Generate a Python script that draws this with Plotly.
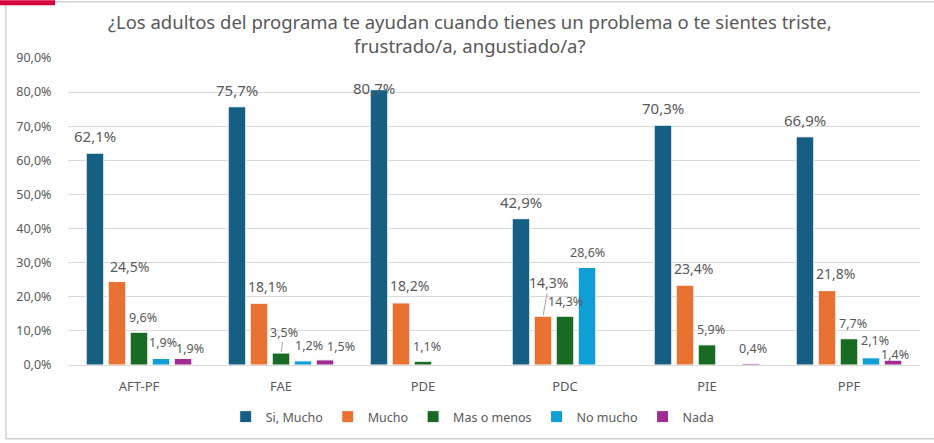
import plotly.graph_objects as go

# ── Data ────────────────────────────────────────────────────────────────────
programas = ["AFT-PF", "FAE", "PDE", "PDC", "PIE", "PPF"]

si_mucho = [62.1, 75.7, 80.7, 42.9, 70.3, 66.9]
mucho = [24.5, 18.1, 18.2, 14.3, 23.4, 21.8]
mas_o_menos = [9.6, 3.5, 1.1, 14.3, 5.9, 7.7]
no_mucho = [1.9, 1.2, None, 28.6, None, 2.1]
nada = [1.9, 1.5, None, None, 0.4, 1.4]

series_names = ["Si, Mucho", "Mucho", "Mas o menos", "No mucho", "Nada"]
series_values = [si_mucho, mucho, mas_o_menos, no_mucho, nada]
COLORS = ["#156082", "#E97132", "#196B24", "#0F9ED5", "#A02B93"]

TITLE = ("¿Los adultos del programa te ayudan cuando tienes un problema o te sientes triste,"
         "<br>frustrado/a, angustiado/a?")

# ── Layout constants ────────────────────────────────────────────────────────
W, H = 934, 443
ML, MR, MT, MB = 68, 14, 58, 77
BARGAP = 0.225
GREY = "#595959"
FONT = "Noto Sans"

plot_w = W - ML - MR
plot_h = H - MT - MB
slot_px = plot_w / len(programas) * (1 - BARGAP) / len(series_names)

# label style per series: font size, default offsets (px right, px above bar top)
LABEL_SIZE = [15, 14, 12.5, 12.5, 12.5]
LABEL_DX = [0, 9, 4, 2, 2]
LABEL_DY = [17, 17, 15, 16, 15]
# hand-placed label tweaks (series index, category) -> (dx, dy, leader line)
LABEL_TWEAK = {
    (0, "PDE"): (-5, 2, False),
    (1, "AFT-PF"): (13, 15, False),
    (4, "AFT-PF"): (7, 10, False),
    (2, "FAE"): (3, 21, True),
    (3, "FAE"): (6, 15, False),
    (4, "FAE"): (16, 13, False),
    (1, "PDC"): (6, 34, True),
    (2, "PDC"): (0, 15, False),
    (3, "PDC"): (0, 15, False),
    (3, "PPF"): (4, 17, False),
    (4, "PPF"): (2, 6, False),
}


def fmt(v):
    return f"{v:.1f}".replace(".", ",") + "%"


fig = go.Figure()

for i, (name, vals) in enumerate(zip(series_names, series_values)):
    fig.add_trace(go.Bar(
        name=name,
        x=programas,
        y=vals,
        marker=dict(color=COLORS[i], line=dict(color="white", width=1)),
        hoverinfo="x+y+name",
    ))

annotations = []
for i, vals in enumerate(series_values):
    base_shift = (i - 2) * slot_px
    for cat, v in zip(programas, vals):
        if v is None:
            continue
        dx, dy, leader = LABEL_TWEAK.get((i, cat), (LABEL_DX[i], LABEL_DY[i], False))
        common = dict(
            x=cat, y=v, xref="x", yref="y",
            text=fmt(v),
            font=dict(family=FONT, size=LABEL_SIZE[i], color=GREY),
            xanchor="center", yanchor="middle",
        )
        if leader:
            annotations.append(dict(
                **common, xshift=base_shift, showarrow=True,
                ax=dx, ay=-dy, axref="pixel", ayref="pixel",
                arrowhead=0, arrowwidth=1, arrowcolor="#a6a6a6", standoff=1,
            ))
        else:
            annotations.append(dict(
                **common, xshift=base_shift + dx, yshift=dy, showarrow=False,
            ))


# chart frame (grey border) and red tab in the top-left corner
def px_x(p):
    return (p - ML) / plot_w


def px_y(p):
    return (H - MB - p) / plot_h


shapes = [
    dict(type="rect", xref="paper", yref="paper",
         x0=px_x(6), x1=px_x(W + 10), y0=px_y(440), y1=px_y(1.5),
         line=dict(color="#d0d0d0", width=1.5), fillcolor="rgba(0,0,0,0)", layer="below"),
    dict(type="rect", xref="paper", yref="paper",
         x0=px_x(0), x1=px_x(55), y0=px_y(5), y1=px_y(0),
         line=dict(width=0), fillcolor="#D9043D"),
]

fig.update_layout(
    width=W, height=H,
    margin=dict(l=ML, r=MR, t=MT, b=MB),
    paper_bgcolor="white", plot_bgcolor="white",
    font=dict(family=FONT, color=GREY, size=12.5),
    separators=",.",
    barmode="group",
    bargap=BARGAP,
    bargroupgap=0.2,
    title=dict(
        text=TITLE, x=0.503, xanchor="center", y=1 - 29 / H, yanchor="middle",
        font=dict(family=FONT, size=18.5, color=GREY),
    ),
    legend=dict(
        orientation="h", x=0.475, xanchor="center", y=px_y(417), yanchor="middle",
        font=dict(family=FONT, size=12.5, color=GREY),
        itemwidth=30, tracegroupgap=0,
    ),
    annotations=annotations,
    shapes=shapes,
    showlegend=True,
)

fig.update_yaxes(
    range=[0, 90], dtick=10, tickformat=".1f", ticksuffix="%",
    showgrid=True, gridcolor="#d9d9d9", gridwidth=1,
    zeroline=True, zerolinecolor="#d9d9d9", zerolinewidth=1,
    ticks="outside", ticklen=13, tickcolor="rgba(0,0,0,0)",
    tickfont=dict(family=FONT, size=12.5, color=GREY),
    fixedrange=True,
)
fig.update_xaxes(
    showline=False, showgrid=False,
    ticks="outside", ticklen=9, tickcolor="rgba(0,0,0,0)",
    tickfont=dict(family=FONT, size=13, color=GREY),
    fixedrange=True,
)

# drop the default page margin so the figure sits at the window's top-left corner
fig.write_html(
    "out.html",
    config={"displayModeBar": False},
    post_script="document.body.style.margin='0';",
)
